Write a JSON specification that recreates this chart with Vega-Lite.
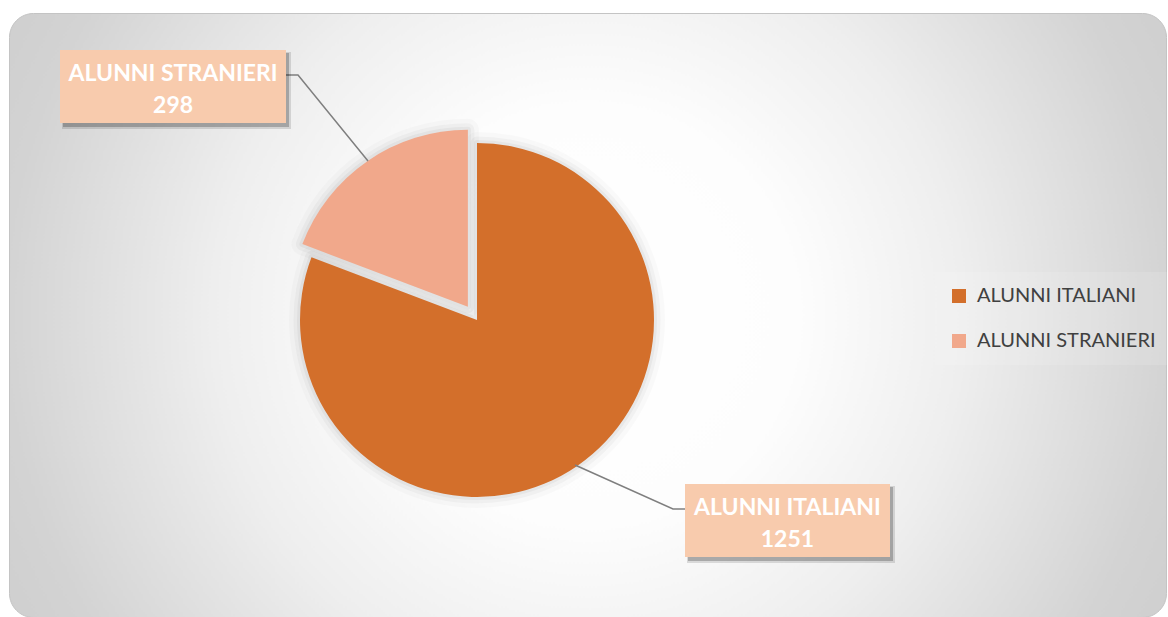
{
  "$schema": "https://vega.github.io/schema/vega-lite/v6.json",
  "width": 1168,
  "height": 617,
  "autosize": {"type": "fit", "contains": "padding"},
  "padding": {"left": 9, "top": 13, "right": 2, "bottom": 0},
  "background": "#ffffff",
  "view": {
    "cornerRadius": 24,
    "stroke": "#c4c4c4",
    "strokeWidth": 1,
    "fill": {
      "gradient": "radial",
      "x1": 0.5, "y1": 0.5, "r1": 0,
      "x2": 0.5, "y2": 0.5, "r2": 0.72,
      "stops": [
        {"offset": 0, "color": "#ffffff"},
        {"offset": 0.25, "color": "#fdfdfd"},
        {"offset": 0.45, "color": "#eeeeee"},
        {"offset": 0.7, "color": "#d3d3d3"},
        {"offset": 1, "color": "#c4c4c4"}
      ]
    }
  },
  "data": {
    "values": [
      {"categoria": "ALUNNI ITALIANI", "valore": 1251},
      {"categoria": "ALUNNI STRANIERI", "valore": 298}
    ]
  },
  "layer": [
    {
      "mark": {"type": "arc", "radius": 177, "xOffset": -110.5, "yOffset": 5, "filled": false, "stroke": "#000000", "strokeOpacity": 0.02, "strokeWidth": 22, "strokeJoin": "round"},
      "encoding": {
        "theta": {"field": "valore", "type": "quantitative", "stack": true},
        "order": {"field": "valore", "type": "quantitative", "sort": "descending"},
        "opacity": {"condition": {"test": "datum.categoria === 'ALUNNI STRANIERI'", "value": 0}, "value": 1}
      }
    },
    {
      "mark": {"type": "arc", "radius": 177, "xOffset": -110.5, "yOffset": 5, "filled": false, "stroke": "#000000", "strokeOpacity": 0.03, "strokeWidth": 13, "strokeJoin": "round"},
      "encoding": {
        "theta": {"field": "valore", "type": "quantitative", "stack": true},
        "order": {"field": "valore", "type": "quantitative", "sort": "descending"},
        "opacity": {"condition": {"test": "datum.categoria === 'ALUNNI STRANIERI'", "value": 0}, "value": 1}
      }
    },
    {
      "mark": {"type": "arc", "radius": 177, "xOffset": -110.5, "yOffset": 5, "filled": false, "stroke": "#000000", "strokeOpacity": 0.04, "strokeWidth": 6, "strokeJoin": "round"},
      "encoding": {
        "theta": {"field": "valore", "type": "quantitative", "stack": true},
        "order": {"field": "valore", "type": "quantitative", "sort": "descending"},
        "opacity": {"condition": {"test": "datum.categoria === 'ALUNNI STRANIERI'", "value": 0}, "value": 1}
      }
    },
    {
      "mark": {"type": "arc", "radius": 177, "xOffset": -119.6, "yOffset": -8.2, "filled": false, "stroke": "#000000", "strokeOpacity": 0.02, "strokeWidth": 22, "strokeJoin": "round"},
      "encoding": {
        "theta": {"field": "valore", "type": "quantitative", "stack": true},
        "order": {"field": "valore", "type": "quantitative", "sort": "descending"},
        "opacity": {"condition": {"test": "datum.categoria === 'ALUNNI ITALIANI'", "value": 0}, "value": 1}
      }
    },
    {
      "mark": {"type": "arc", "radius": 177, "xOffset": -119.6, "yOffset": -8.2, "filled": false, "stroke": "#000000", "strokeOpacity": 0.03, "strokeWidth": 13, "strokeJoin": "round"},
      "encoding": {
        "theta": {"field": "valore", "type": "quantitative", "stack": true},
        "order": {"field": "valore", "type": "quantitative", "sort": "descending"},
        "opacity": {"condition": {"test": "datum.categoria === 'ALUNNI ITALIANI'", "value": 0}, "value": 1}
      }
    },
    {
      "mark": {"type": "arc", "radius": 177, "xOffset": -119.6, "yOffset": -8.2, "filled": false, "stroke": "#000000", "strokeOpacity": 0.04, "strokeWidth": 6, "strokeJoin": "round"},
      "encoding": {
        "theta": {"field": "valore", "type": "quantitative", "stack": true},
        "order": {"field": "valore", "type": "quantitative", "sort": "descending"},
        "opacity": {"condition": {"test": "datum.categoria === 'ALUNNI ITALIANI'", "value": 0}, "value": 1}
      }
    },
    {
      "mark": {"type": "arc", "radius": 177, "xOffset": -110.5, "yOffset": 5},
      "encoding": {
        "theta": {"field": "valore", "type": "quantitative", "stack": true},
        "order": {"field": "valore", "type": "quantitative", "sort": "descending"},
        "color": {
          "field": "categoria", "type": "nominal", "title": null,
          "scale": {"domain": ["ALUNNI ITALIANI", "ALUNNI STRANIERI"], "range": ["#D36F2B", "#F1A88B"]},
          "legend": {
            "orient": "none", "legendX": 926, "legendY": 259,
            "symbolType": "square", "symbolSize": 196, "symbolOpacity": 1, "symbolStrokeWidth": 0,
            "labelFont": "Lato", "labelFontSize": 20, "labelColor": "#404040", "labelLimit": 400,
            "rowPadding": 25, "labelOffset": 8, "padding": 14,
            "fillColor": "rgba(255,255,255,0.12)"
          }
        },
        "opacity": {"condition": {"test": "datum.categoria === 'ALUNNI STRANIERI'", "value": 0}, "value": 1}
      }
    },
    {
      "mark": {"type": "arc", "radius": 177, "xOffset": -119.6, "yOffset": -8.2},
      "encoding": {
        "theta": {"field": "valore", "type": "quantitative", "stack": true},
        "order": {"field": "valore", "type": "quantitative", "sort": "descending"},
        "color": {"field": "categoria", "type": "nominal", "title": null},
        "opacity": {"condition": {"test": "datum.categoria === 'ALUNNI ITALIANI'", "value": 0}, "value": 1}
      }
    },
    {
      "mark": {"type": "point", "filled": false, "stroke": "#7f7f7f", "strokeWidth": 1.5, "opacity": 1, "xOffset": -110.5, "yOffset": 5},
      "encoding": {
        "shape": {
          "field": "categoria", "type": "nominal", "legend": null,
          "scale": {"domain": ["ALUNNI ITALIANI", "ALUNNI STRANIERI"], "range": ["M208,189H196L98,145", "M-191,-245H-179L-109,-159"]}
        },
        "size": {"value": 4}
      }
    },
    {
      "mark": {"type": "point", "filled": true, "fill": "#000000", "fillOpacity": 0.12, "strokeWidth": 0, "opacity": 1, "xOffset": -110.5, "yOffset": 5},
      "encoding": {
        "shape": {
          "field": "categoria", "type": "nominal", "legend": null,
          "scale": {"domain": ["ALUNNI ITALIANI", "ALUNNI STRANIERI"], "range": ["M210,166H418V243H210Z", "M-415,-268H-186V-191H-415Z"]}
        },
        "size": {"value": 4}
      }
    },
    {
      "mark": {"type": "point", "filled": true, "fill": "#000000", "fillOpacity": 0.22, "strokeWidth": 0, "opacity": 1, "xOffset": -110.5, "yOffset": 5},
      "encoding": {
        "shape": {
          "field": "categoria", "type": "nominal", "legend": null,
          "scale": {"domain": ["ALUNNI ITALIANI", "ALUNNI STRANIERI"], "range": ["M211,167H416V241H211Z", "M-414,-267H-188V-193H-414Z"]}
        },
        "size": {"value": 4}
      }
    },
    {
      "mark": {"type": "point", "filled": true, "fill": "#F8CBAD", "strokeWidth": 0, "opacity": 1, "xOffset": -110.5, "yOffset": 5},
      "encoding": {
        "shape": {
          "field": "categoria", "type": "nominal", "legend": null,
          "scale": {"domain": ["ALUNNI ITALIANI", "ALUNNI STRANIERI"], "range": ["M208,164H413V237H208Z", "M-417,-270H-191V-197H-417Z"]}
        },
        "size": {"value": 4}
      }
    },
    {
      "transform": [{"calculate": "[datum.categoria, format(datum.valore, 'd')]", "as": "etichetta"}],
      "mark": {"type": "text", "radius": 376, "thetaOffset": -0.3517, "xOffset": -107.25, "yOffset": -24.1, "font": "Lato", "fontWeight": "bold", "fontSize": 23, "fill": "#ffffff", "lineHeight": 32, "align": "center", "baseline": "middle"},
      "encoding": {
        "theta": {"field": "valore", "type": "quantitative", "stack": true},
        "order": {"field": "valore", "type": "quantitative", "sort": "descending"},
        "text": {"field": "etichetta"}
      }
    }
  ],
  "resolve": {"scale": {"shape": "independent"}}
}
